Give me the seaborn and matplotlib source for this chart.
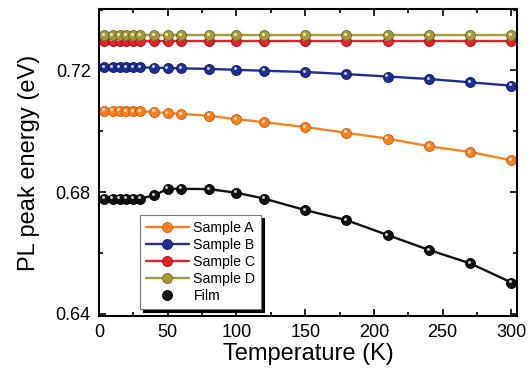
import numpy as np
import pandas as pd
import matplotlib
matplotlib.use('Agg')
import matplotlib.pyplot as plt
import matplotlib.transforms as mtransforms
from matplotlib.lines import Line2D
from matplotlib.ticker import MultipleLocator, FormatStrFormatter
import seaborn as sns

# data
temperature = [4, 10, 15, 20, 25, 30, 40, 50, 60, 80, 100, 120, 150, 180, 210, 240, 270, 300]
sample_a = [0.7068, 0.7068, 0.7068, 0.7067, 0.7067, 0.7066, 0.7064, 0.7060, 0.7057, 0.7051,
            0.7040, 0.7030, 0.7014, 0.6995, 0.6976, 0.6951, 0.6932, 0.6905]
sample_b = [0.7210, 0.7210, 0.7210, 0.7210, 0.7210, 0.7210, 0.7209, 0.7208, 0.7207, 0.7205,
            0.7202, 0.7199, 0.7195, 0.7188, 0.7180, 0.7172, 0.7161, 0.7150]
sample_c = [0.7298] * 18
sample_d = [0.7315] * 18
film = [0.6779, 0.6778, 0.6779, 0.6779, 0.6779, 0.6779, 0.6789, 0.6811, 0.6811, 0.6810,
        0.6798, 0.6779, 0.6741, 0.6708, 0.6659, 0.6610, 0.6566, 0.6503]

labels = ['Sample A', 'Sample B', 'Sample C', 'Sample D', 'Film']
colors = ['#F7821F', '#1E2E94', '#E8202A', '#A39A3C', '#111111']
edge_colors = ['#C85A0A', '#101a60', '#a01015', '#6f6820', '#000000']

df = pd.DataFrame({'T': temperature, 'Sample A': sample_a, 'Sample B': sample_b,
                   'Sample C': sample_c, 'Sample D': sample_d, 'Film': film})

sns.set_style('ticks')
plt.rcParams['font.family'] = ['Liberation Sans', 'DejaVu Sans']
plt.rcParams['text.color'] = 'black'
plt.rcParams['axes.labelcolor'] = 'black'
plt.rcParams['xtick.color'] = 'black'
plt.rcParams['ytick.color'] = 'black'
plt.rcParams['axes.edgecolor'] = 'black'

fig = plt.figure(figsize=(5.28, 3.83), dpi=100)
ax = fig.add_axes([0.1875, 0.175, 0.7915, 0.8015])

# small highlight dot to fake the shaded spheres
hl = mtransforms.offset_copy(ax.transData, fig=fig, x=-1.0, y=1.0, units='points')

for lab, col, ec in zip(labels, colors, edge_colors):
    sns.lineplot(data=df, x='T', y=lab, ax=ax, color=col, linewidth=1.7,
                 marker='o', markersize=7.2, markeredgecolor=ec, markeredgewidth=0.6,
                 legend=False)
    ax.plot(df['T'], df[lab], linestyle='none', marker='o', markersize=2.2,
            color='white', alpha=0.75, markeredgewidth=0, transform=hl)

ax.set_xlim(0, 304)
ax.set_ylim(0.6393, 0.7402)
ax.xaxis.set_major_locator(MultipleLocator(50))
ax.xaxis.set_minor_locator(MultipleLocator(25))
ax.yaxis.set_major_locator(MultipleLocator(0.04))
ax.yaxis.set_minor_locator(MultipleLocator(0.02))
ax.yaxis.set_major_formatter(FormatStrFormatter('%.2f'))
ax.tick_params(which='both', direction='in', top=True, right=True, width=1.2, labelsize=13)
ax.tick_params(which='major', length=5)
ax.tick_params(which='minor', length=3)
ax.tick_params(axis='x', pad=6)
ax.tick_params(axis='y', pad=6)
for sp in ax.spines.values():
    sp.set_linewidth(1.5)
    sp.set_color('black')

ax.set_xlabel('Temperature (K)', fontsize=17, labelpad=1)
ax.set_ylabel('PL peak energy (eV)', fontsize=17, labelpad=11)

handles = []
for lab, col, ec in zip(labels, colors, edge_colors):
    ls = 'none' if lab == 'Film' else '-'
    handles.append(Line2D([0], [0], color=col, linestyle=ls, linewidth=1.7, marker='o',
                          markersize=7.2, markeredgecolor=ec, markeredgewidth=0.6, label=lab))
leg = ax.legend(handles=handles, loc='lower left', bbox_to_anchor=(0.082, 0.0),
                fontsize=10.2, frameon=True, fancybox=False, shadow={'color': 'black', 'alpha': 1},
                framealpha=1, edgecolor='#777777', handlelength=3.0, handletextpad=0.35,
                labelspacing=0.22, borderpad=0.4)
leg.get_frame().set_linewidth(0.8)

fig.savefig('out.png', dpi=100)
